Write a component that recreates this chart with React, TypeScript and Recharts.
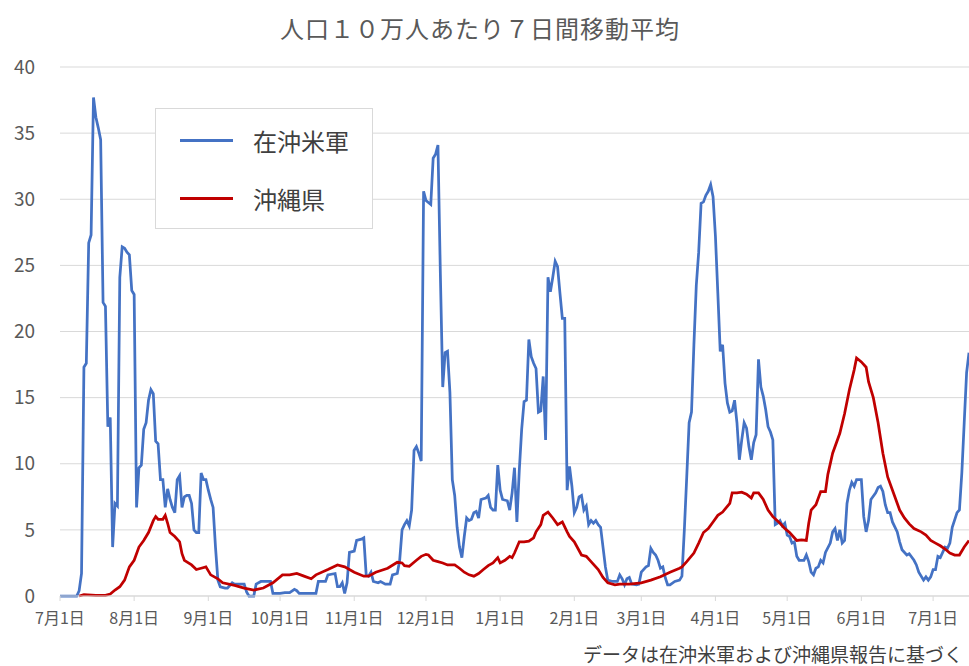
import React from "react";
import { LineChart, Line, XAxis, YAxis, CartesianGrid } from "recharts";

// days counted from 7/1 (day 0); values per 100k people, 7-day moving average
const usForces: [number, number][] = [
  [0, 0], [7, 0], [8, 0.4], [9, 1.7], [10, 17.3], [11, 17.6], [12, 26.7], [13, 27.3],
  [14, 37.7], [15, 36.2], [16, 35.4], [17, 34.5], [18, 22.2], [19, 21.9], [20, 12.8],
  [21, 13.5], [22, 3.7], [23, 7.0], [24, 6.8], [25, 24.1], [26, 26.4], [27, 26.3],
  [28, 26.0], [29, 25.8], [30, 23.1], [31, 22.8], [32, 6.7], [33, 9.7], [34, 9.9],
  [35, 12.6], [36, 13.1], [37, 14.8], [38, 15.6], [39, 15.3], [40, 11.7], [41, 11.5],
  [42, 8.8], [43, 8.8], [44, 6.7], [45, 8.1], [46, 7.3], [47, 6.7], [48, 6.3], [49, 8.8],
  [50, 9.1], [51, 6.7], [52, 7.5], [53, 7.6], [54, 7.6], [55, 7.0], [56, 5.0], [57, 4.8],
  [58, 4.8], [59, 9.3], [60, 8.8], [61, 8.8], [62, 8.0], [63, 7.3], [64, 6.7], [65, 3.7],
  [66, 1.2], [67, 0.7], [69, 0.6], [70, 0.6], [72, 1.0], [73, 0.9], [75, 0.9], [77, 0.9],
  [78, 0.3], [79, 0], [81, 0], [82, 0.9], [84, 1.1], [86, 1.1], [88, 1.1], [89, 0.2],
  [92, 0.2], [94, 0.25], [96, 0.25], [98, 0.5], [99, 0.4], [100, 0.2], [103, 0.2],
  [107, 0.2], [108, 1.1], [111, 1.1], [112, 1.6], [115, 1.7], [116, 0.7], [117, 0.7],
  [118, 1.0], [119, 0.2], [120, 1.0], [121, 3.3], [123, 3.4], [124, 4.2], [126, 4.3],
  [127, 4.4], [128, 1.6], [129, 1.5], [130, 1.8], [131, 1.1], [133, 1.0], [134, 1.1],
  [136, 0.9], [138, 0.9], [139, 1.6], [141, 1.7], [142, 2.7], [143, 5.0], [144, 5.4],
  [145, 5.7], [146, 5.3], [147, 6.5], [148, 11.0], [149, 11.3], [150, 10.8], [151, 10.2],
  [152, 30.6], [153, 29.9], [155, 29.6], [156, 33.1], [157, 33.4], [158, 34.1],
  [159, 24.4], [160, 15.8], [161, 18.4], [162, 18.5], [163, 15.4], [164, 8.8], [165, 7.6],
  [166, 5.2], [167, 3.7], [168, 2.9], [169, 4.5], [170, 5.9], [171, 5.7], [172, 5.8],
  [173, 6.3], [174, 6.4], [175, 5.9], [176, 7.3], [178, 7.4], [179, 7.6], [180, 6.7],
  [181, 6.5], [182, 6.5], [183, 9.9], [184, 8.0], [185, 7.3], [187, 7.2], [188, 6.5],
  [189, 7.8], [190, 9.7], [191, 5.6], [192, 9.5], [193, 12.6], [194, 14.7], [195, 14.8],
  [196, 19.4], [197, 18.1], [198, 17.6], [199, 17.2], [200, 13.9], [201, 14.0],
  [202, 16.6], [203, 11.8], [204, 24.1], [205, 23.0], [206, 24.1], [207, 25.3],
  [208, 24.9], [209, 22.9], [210, 21.0], [211, 21.0], [212, 8.0], [213, 9.8], [214, 8.3],
  [215, 6.3], [216, 6.7], [217, 7.5], [218, 7.6], [219, 6.5], [220, 6.8], [221, 5.4],
  [222, 5.7], [223, 5.5], [224, 5.7], [225, 5.4], [226, 5.2], [227, 3.7], [228, 2.2],
  [229, 1.2], [231, 1.1], [233, 1.1], [234, 1.6], [235, 1.3], [236, 0.85], [237, 1.3],
  [238, 1.4], [239, 0.9], [241, 0.85], [242, 0.9], [243, 1.8], [245, 2.2], [246, 2.3],
  [247, 3.6], [248, 3.3], [249, 3.1], [250, 2.7], [251, 2.1], [252, 2.2], [253, 1.4],
  [254, 0.85], [255, 0.85], [257, 1.1], [259, 1.2], [260, 1.5], [261, 5.0], [262, 9.0],
  [263, 13.1], [264, 13.9], [265, 19.0], [266, 23.5], [267, 26.0], [268, 29.7],
  [269, 29.8], [270, 30.3], [271, 30.6], [272, 31.1], [273, 30.2], [274, 27.2],
  [275, 22.9], [276, 18.5], [277, 19.0], [278, 16.1], [279, 14.6], [280, 13.9],
  [281, 14.0], [282, 14.8], [283, 13.1], [284, 10.3], [285, 11.8], [286, 13.1],
  [287, 12.7], [288, 11.3], [289, 10.3], [290, 11.6], [291, 12.2], [292, 17.9],
  [293, 15.8], [294, 15.1], [295, 14.1], [296, 12.8], [297, 12.4], [298, 11.8],
  [299, 5.4], [300, 5.5], [301, 5.7], [302, 5.3], [303, 5.5], [304, 4.6], [305, 4.5],
  [306, 4.0], [307, 4.1], [308, 3.0], [309, 2.7], [311, 2.7], [312, 3.1], [313, 2.6],
  [314, 1.8], [315, 1.6], [316, 2.1], [317, 2.2], [318, 2.7], [319, 2.5], [320, 3.3],
  [322, 4.0], [323, 4.85], [324, 5.1], [325, 4.2], [326, 5.0], [327, 4.0], [328, 4.2],
  [329, 7.0], [330, 8.0], [331, 8.6], [332, 8.3], [333, 8.8], [335, 8.8], [336, 6.0],
  [337, 4.85], [338, 5.7], [339, 7.3], [341, 7.8], [342, 8.2], [343, 8.3], [344, 7.9],
  [345, 6.9], [346, 6.3], [347, 6.3], [348, 5.6], [350, 4.85], [351, 4.1], [352, 3.5],
  [354, 3.1], [355, 3.2], [357, 2.7], [358, 2.35], [359, 1.8], [361, 1.2], [362, 1.45],
  [363, 1.2], [364, 1.45], [365, 2.0], [366, 2.0], [367, 3.0], [368, 2.9], [370, 3.7],
  [371, 3.6], [372, 4.0], [373, 5.2], [375, 6.3], [376, 6.5], [377, 9.3], [378, 13.1],
  [379, 16.9], [380, 18.4],
];

const okinawaPref: [number, number][] = [
  [8, 0], [10, 0.1], [15, 0.05], [19, 0.05], [21, 0.15], [23, 0.45], [25, 0.7],
  [27, 1.2], [29, 2.2], [31, 2.7], [33, 3.7], [35, 4.2], [37, 4.8], [39, 5.7], [40, 6.0],
  [41, 5.8], [43, 5.8], [44, 6.1], [45, 5.5], [46, 4.8], [48, 4.5], [50, 4.1], [51, 3.2],
  [52, 2.7], [55, 2.35], [57, 2.0], [59, 2.1], [61, 2.2], [63, 1.6], [66, 1.3], [68, 1.0],
  [73, 0.8], [77, 0.6], [81, 0.45], [85, 0.6], [89, 1.0], [93, 1.6], [96, 1.6], [99, 1.7],
  [102, 1.5], [105, 1.3], [107, 1.6], [112, 2.0], [116, 2.35], [119, 2.2], [123, 1.8],
  [127, 1.5], [129, 1.5], [132, 1.8], [137, 2.1], [141, 2.55], [143, 2.5], [144, 2.3],
  [146, 2.25], [149, 2.7], [151, 3.0], [153, 3.15], [154, 3.1], [156, 2.7], [158, 2.6],
  [160, 2.5], [162, 2.35], [165, 2.35], [167, 2.1], [169, 1.8], [171, 1.6], [173, 1.5],
  [175, 1.7], [177, 2.0], [179, 2.3], [181, 2.5], [183, 2.9], [184, 2.5], [186, 2.7],
  [188, 3.0], [189, 2.9], [190, 3.25], [192, 4.1], [194, 4.1], [196, 4.15], [198, 4.4],
  [199, 4.85], [201, 5.4], [202, 6.1], [204, 6.35], [206, 5.9], [208, 5.4], [210, 5.6],
  [212, 4.85], [213, 4.5], [215, 4.1], [218, 3.1], [220, 3.0], [222, 2.6], [225, 2.0],
  [227, 1.4], [229, 1.0], [232, 0.85], [234, 0.9], [238, 0.9], [243, 1.0], [247, 1.2],
  [251, 1.45], [255, 1.8], [259, 2.1], [260, 2.2], [262, 2.6], [265, 3.25], [267, 4.0],
  [269, 4.8], [271, 5.1], [273, 5.6], [275, 6.1], [277, 6.35], [280, 7.0], [281, 7.8],
  [283, 7.8], [285, 7.85], [287, 7.7], [289, 7.4], [290, 7.8], [292, 7.8], [294, 7.3],
  [296, 6.5], [298, 6.0], [301, 5.5], [303, 5.1], [305, 4.8], [308, 4.2], [310, 4.25],
  [312, 4.2], [313, 5.5], [314, 6.5], [316, 6.9], [318, 7.9], [320, 7.9], [321, 9.2],
  [323, 10.8], [326, 12.3], [328, 13.8], [330, 15.6], [332, 17.1], [333, 18.0],
  [335, 17.7], [337, 17.3], [338, 16.2], [340, 15.0], [342, 13.1], [344, 10.8], [346, 9.0],
  [349, 7.5], [351, 6.5], [353, 5.9], [355, 5.45], [357, 5.1], [360, 4.85], [362, 4.6],
  [364, 4.2], [366, 4.0], [368, 3.8], [370, 3.55], [372, 3.25], [374, 3.1], [376, 3.1],
  [378, 3.7], [380, 4.2],
];

const monthTicks = [0, 31, 62, 92, 123, 153, 184, 215, 243, 274, 304, 335, 365];
const monthLabels = [
  "7月1日", "8月1日", "9月1日", "10月1日", "11月1日", "12月1日",
  "1月1日", "2月1日", "3月1日", "4月1日", "5月1日", "6月1日", "7月1日",
];
const yTicks = [0, 5, 10, 15, 20, 25, 30, 35, 40];

const seriesNames = ["在沖米軍", "沖縄県"];
const seriesColors = ["#4472C4", "#C00000"];

const FONT = "'Noto Sans CJK JP', 'Noto Sans', sans-serif";

const toRows = (pts: [number, number][]) => pts.map(([d, v]) => ({ d, v }));

export default function App() {
  const usRows = toRows(usForces);
  const prefRows = toRows(okinawaPref);

  return (
    <div
      style={{
        position: "absolute",
        left: 0,
        top: 0,
        width: 969,
        height: 666,
        background: "#fff",
        fontFamily: FONT,
        overflow: "hidden",
      }}
    >
      <div
        style={{
          position: "absolute",
          top: 10,
          left: 0,
          width: 960,
          textAlign: "center",
          fontSize: 24,
          letterSpacing: 1,
          color: "#595959",
        }}
      >
        人口１０万人あたり７日間移動平均
      </div>

      <LineChart
        width={969}
        height={666}
        margin={{ top: 67, right: 0, bottom: 0, left: 0 }}
        style={{ fontFamily: FONT }}
      >
        <CartesianGrid vertical={false} stroke="#d9d9d9" strokeWidth={1} />
        <XAxis
          type="number"
          dataKey="d"
          domain={[0, 380]}
          ticks={monthTicks}
          tickFormatter={(d: number) => monthLabels[monthTicks.indexOf(d)]}
          height={70}
          stroke="#d9d9d9"
          tickSize={5}
          tickMargin={12}
          tick={{ fill: "#595959", fontSize: 16 }}
          interval={0}
          allowDataOverflow
        />
        <YAxis
          type="number"
          domain={[0, 40]}
          ticks={yTicks}
          width={60}
          axisLine={false}
          tickLine={false}
          tickSize={0}
          tickMargin={25}
          tick={{ fill: "#595959", fontSize: 19 }}
        />
        <Line
          data={usRows}
          dataKey="v"
          type="linear"
          stroke={seriesColors[0]}
          strokeWidth={2.75}
          dot={false}
          isAnimationActive={false}
        />
        <Line
          data={prefRows}
          dataKey="v"
          type="linear"
          stroke={seriesColors[1]}
          strokeWidth={2.75}
          dot={false}
          isAnimationActive={false}
        />
      </LineChart>

      <div
        style={{
          position: "absolute",
          left: 155,
          top: 108,
          width: 216,
          height: 119,
          border: "1px solid #d9d9d9",
          background: "#fff",
        }}
      >
        {seriesNames.map((name, i) => (
          <div
            key={name}
            style={{
              position: "absolute",
              left: 24,
              top: i === 0 ? 14 : 72,
              height: 34,
              display: "flex",
              alignItems: "center",
            }}
          >
            <div style={{ width: 53, height: 3, background: seriesColors[i] }} />
            <span style={{ marginLeft: 20, fontSize: 24, color: "#404040" }}>{name}</span>
          </div>
        ))}
      </div>

      <div
        style={{
          position: "absolute",
          right: 6,
          top: 640,
          fontSize: 19,
          color: "#404040",
          whiteSpace: "nowrap",
        }}
      >
        データは在沖米軍および沖縄県報告に基づく
      </div>
    </div>
  );
}
